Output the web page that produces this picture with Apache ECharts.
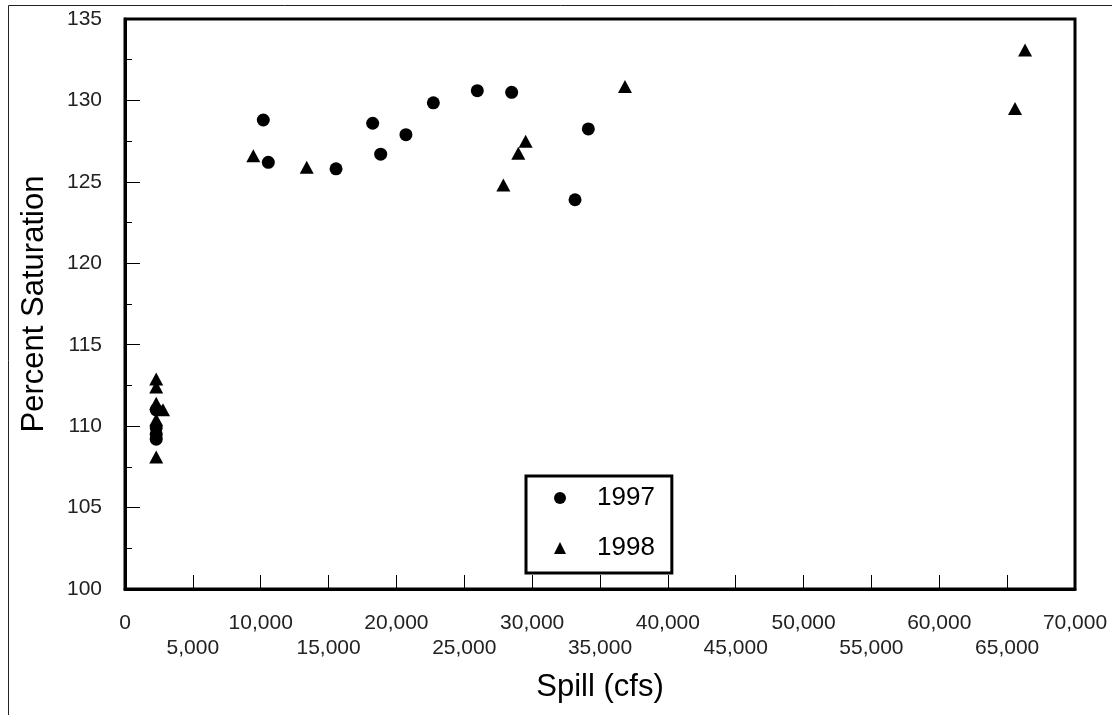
<!DOCTYPE html>
<html>
<head>
<meta charset="utf-8">
<script src="https://cdn.jsdelivr.net/npm/echarts@6/dist/echarts.min.js"></script>
<style>
  html, body { margin: 0; padding: 0; background: #fff; }
  #chart { width: 1112px; height: 715px; }
</style>
</head>
<body>
<div id="chart"></div>
<script>
// 数据
var years = ['1997', '1998'];
// 1997 - [spill cfs, percent saturation]
var spill1997 = [2300, 2300, 2300, 2300, 10190, 10560, 15550, 18250, 18840, 20700, 22720, 25960, 28490, 33160, 34140];
var sat1997   = [111.0, 109.9, 109.5, 109.2, 128.8, 126.2, 125.8, 128.6, 126.7, 127.9, 129.85, 130.6, 130.5, 123.9, 128.25];
// 1998
var spill1998 = [2300, 2300, 2300, 2800, 2300, 2300, 9455, 13390, 27880, 28980, 29520, 36840, 65580, 66320];
var sat1998   = [112.9, 112.4, 111.4, 111.0, 110.4, 108.1, 126.6, 125.9, 124.8, 126.75, 127.5, 130.85, 129.5, 133.1];

var FONT = '"Liberation Sans", Arial, sans-serif';

function pairs(xs, ys) {
    var out = [];
    for (var i = 0; i < xs.length; i++) {
        out.push([xs[i], ys[i]]);
    }
    return out;
}

function withCommas(v) {
    return String(v).replace(/\B(?=(\d{3})+(?!\d))/g, ',');
}

var chart = echarts.init(document.getElementById('chart'), null, { renderer: 'canvas' });

chart.setOption({
    animation: false,
    backgroundColor: '#fff',
    grid: {
        left: 125,
        right: 37,
        top: 19,
        bottom: 126,
        show: true,
        borderColor: '#000',
        borderWidth: 3,
        backgroundColor: 'transparent'
    },
    graphic: [
        { type: 'line', silent: true, shape: { x1: 8.5, y1: 5.5, x2: 1112, y2: 5.5 }, style: { stroke: '#222', lineWidth: 1 } },
        { type: 'line', silent: true, shape: { x1: 8.5, y1: 5.5, x2: 8.5, y2: 715 }, style: { stroke: '#222', lineWidth: 1 } }
    ],
    legend: {
        orient: 'vertical',
        left: 526,
        top: 476,
        padding: [7, 17, 10, 28],
        borderColor: '#000',
        borderWidth: 3,
        itemGap: 20,
        itemWidth: 12,
        itemHeight: 12,
        selectedMode: false,
        textStyle: {
            fontFamily: FONT,
            fontSize: 26,
            lineHeight: 30,
            color: '#000',
            padding: [0, 0, 0, 26]
        },
        data: [
            { name: years[0], icon: 'circle' },
            { name: years[1], icon: 'triangle' }
        ]
    },
    xAxis: {
        type: 'value',
        min: 0,
        max: 70000,
        interval: 5000,
        name: 'Spill (cfs)',
        nameLocation: 'middle',
        nameGap: 83,
        nameTextStyle: { fontFamily: FONT, fontSize: 31, color: '#000' },
        axisLine: { show: true, lineStyle: { color: '#000', width: 3 } },
        axisTick: { show: true, inside: true, length: 14, lineStyle: { color: '#000', width: 1 } },
        splitLine: { show: false },
        axisLabel: {
            margin: 22,
            fontFamily: FONT,
            fontSize: 21,
            lineHeight: 25,
            color: '#222',
            formatter: function (v) {
                var s = withCommas(v);
                return (v / 5000) % 2 === 1 ? '\n' + s : s;
            }
        }
    },
    yAxis: {
        type: 'value',
        min: 100,
        max: 135,
        interval: 5,
        name: 'Percent Saturation',
        nameLocation: 'middle',
        nameGap: 75,
        nameTextStyle: { fontFamily: FONT, fontSize: 31, color: '#000' },
        axisLine: { show: true, lineStyle: { color: '#000', width: 3 } },
        axisTick: { show: true, inside: true, length: 15, lineStyle: { color: '#000', width: 1 } },
        minorTick: { show: true, splitNumber: 2, length: 7, lineStyle: { color: '#000', width: 1 } },
        splitLine: { show: false },
        minorSplitLine: { show: false },
        axisLabel: {
            margin: 23,
            fontFamily: FONT,
            fontSize: 21,
            color: '#222'
        }
    },
    series: [
        {
            name: years[0],
            type: 'scatter',
            symbol: 'circle',
            symbolSize: 13,
            itemStyle: { color: '#000', opacity: 1 },
            data: pairs(spill1997, sat1997)
        },
        {
            name: years[1],
            type: 'scatter',
            symbol: 'triangle',
            symbolSize: [14, 13],
            itemStyle: { color: '#000', opacity: 1 },
            data: pairs(spill1998, sat1998)
        }
    ]
});
</script>
</body>
</html>
